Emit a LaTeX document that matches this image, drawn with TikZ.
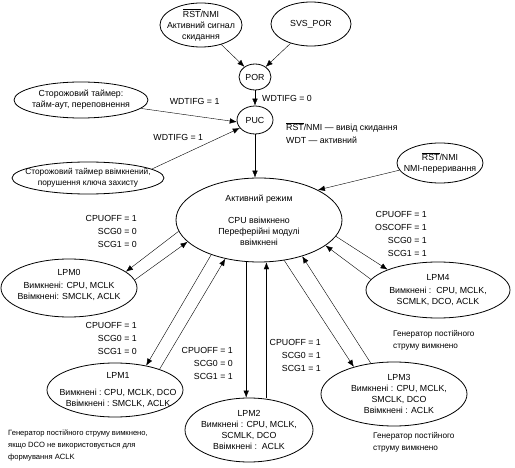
\documentclass[tikz,border=0pt]{standalone}
\usepackage{fontspec}
\setmainfont{Liberation Sans}
\usetikzlibrary{arrows.meta, shapes.geometric}

\begin{document}
\begin{tikzpicture}[x=1pt, y=-1pt, font=\fontsize{8.8}{11}\selectfont,
    st/.style = {draw, ellipse, inner sep=0pt, line width=0.8pt},
    tx/.style = {align=center, inner sep=0pt},
    arr/.style = {-{Latex[length=7pt, width=5.5pt]}, line width=0.4pt},
    lab/.style = {inner sep=0pt},
    cond/.style = {align=right, anchor=east, inner sep=0pt, font=\fontsize{8.8}{13}\selectfont},
    note/.style = {align=left, anchor=north west, inner sep=0pt, font=\fontsize{8.2}{12}\selectfont}]
    \useasboundingbox (0,0) rectangle (515,468);

    % reset sources
    \node[st, minimum width=82, minimum height=44, label={[tx]center:$\overline{\mbox{RST}}$/NMI\\Активний сигнал\\скидання}] (RST) at (201,25) {};
    \node[st, minimum width=80, minimum height=44] (SVS) at (311,24) {SVS\_POR};
    \node[st, minimum width=32, minimum height=26] (POR) at (255,77) {POR};
    \node[st, minimum width=36, minimum height=28] (PUC) at (255,120) {PUC};
    \node[st, minimum width=134, minimum height=36, label={[tx]center:Сторожовий таймер:\\тайм-аут, переповнення}] (WD1) at (81,100) {};
    \node[st, minimum width=152, minimum height=32, label={[tx, font=\fontsize{8.3}{11}\selectfont]center:Сторожовий таймер ввімкнений,\\порушення ключа захисту}] (WD2) at (88,178) {};
    \node[st, minimum width=86, minimum height=40, label={[tx]center:$\overline{\mbox{RST}}$/NMI\\NMI-переривання}] (NMI) at (440,163) {};

    % operating modes
    \node[st, minimum width=166, minimum height=84, label={[tx]center:Активний режим\\[11pt]CPU ввімкнено\\Переферійні модулі\\ввімкнені}] (ACT) at (259,220) {};
    \node[st, minimum width=136, minimum height=58, label={[tx, yshift=3pt]center:LPM0\\[2pt]Вимкнені: CPU, MCLK\\Ввімкнені: SMCLK, ACLK}] (L0) at (69,288) {};
    \node[st, minimum width=136, minimum height=54, label={[tx, xshift=3pt]center:LPM1\\[6pt]Вимкнені :\ CPU, MCLK, DCO\\Ввімкнені :\ SMCLK, ACLK}] (L1) at (115,390) {};
    \node[st, minimum width=128, minimum height=64, label={[tx]center:LPM2\\Вимкнені : CPU, MCLK,\\SCMLK, DCO\\Ввімкнені :\ \ ACLK}] (L2) at (249,430) {};
    \node[st, minimum width=146, minimum height=64, label={[tx, xshift=5pt]center:LPM3\\Вимкнені : CPU, MCLK,\\SMCLK, DCO\\Ввімкнені : ACLK}] (L3) at (394,394) {};
    \node[st, minimum width=144, minimum height=56, label={[tx]center:LPM4\\[2pt]Вимкнені :\ \ CPU, MCLK,\\SCMLK, DCO, ACLK}] (L4) at (438,290) {};

    \path[arr] (RST) edge (POR);
    \path[arr] (SVS) edge (POR);
    \path[arr] (POR) edge node[lab, right=7pt] {WDTIFG = 0} (PUC);
    \path[arr] (WD1.352) edge node[lab, pos=0.56, above=11pt] {WDTIFG = 1} (PUC.186);
    \path[arr] (WD2.8) edge node[lab, pos=0.3, above=16pt] {WDTIFG = 1} (PUC.208);
    \path[arr] (PUC) edge (PUC |- ACT.north);
    \path[arr] (NMI.190) edge (ACT.27);

    \node[note, anchor=west, font=\fontsize{8.8}{13}\selectfont] (pucnote) at (286,133) {$\overline{\mbox{RST}}$/NMI — вивід скидання\\WDT — активний};

    % mode changes
    \path[arr] (ACT.188) edge (L0.16);
    \path[arr] (L0.7) edge (ACT.197);
    \path[arr] (ACT.216) edge (L1.38);
    \path[arr] (L1.25) edge (ACT.229);
    \path[arr] (ACT.253) edge (ACT.253 |- L2.north);
    \path[arr] (L2.north -| ACT.280) edge (ACT.280);
    \path[arr] (ACT.302) edge (L3.146);
    \path[arr] (L3.127) edge (ACT.320);
    \path[arr] (ACT.348) edge (L4.158);
    \path[arr] (L4.171) edge (ACT.339);

    \node[cond] (c0) at (137,231) {CPUOFF = 1\\SCG0 = 0\\SCG1 = 0};
    \node[cond] (c1) at (137,338) {CPUOFF = 1\\SCG0 = 1\\SCG1 = 0};
    \node[cond] (c2) at (233,363) {CPUOFF = 1\\SCG0 = 0\\SCG1 = 1};
    \node[cond] (c3) at (321,355) {CPUOFF = 1\\SCG0 = 1\\SCG1 = 1};
    \node[cond] (c4) at (427,234) {CPUOFF = 1\\OSCOFF = 1\\SCG0 = 1\\SCG1 = 1};

    \node[note] (n4) at (393,330) {Генератор постійного\\струму вимкнено};
    \node[note] (n3) at (373,432) {Генератор постійного\\струму вимкнено};
    \node[note, font=\fontsize{7.6}{12}\selectfont] (n1) at (8,430) {Генератор постійного струму вимкнено,\\якщо DCO не використовується для\\формування ACLK};
\end{tikzpicture}
\end{document}
